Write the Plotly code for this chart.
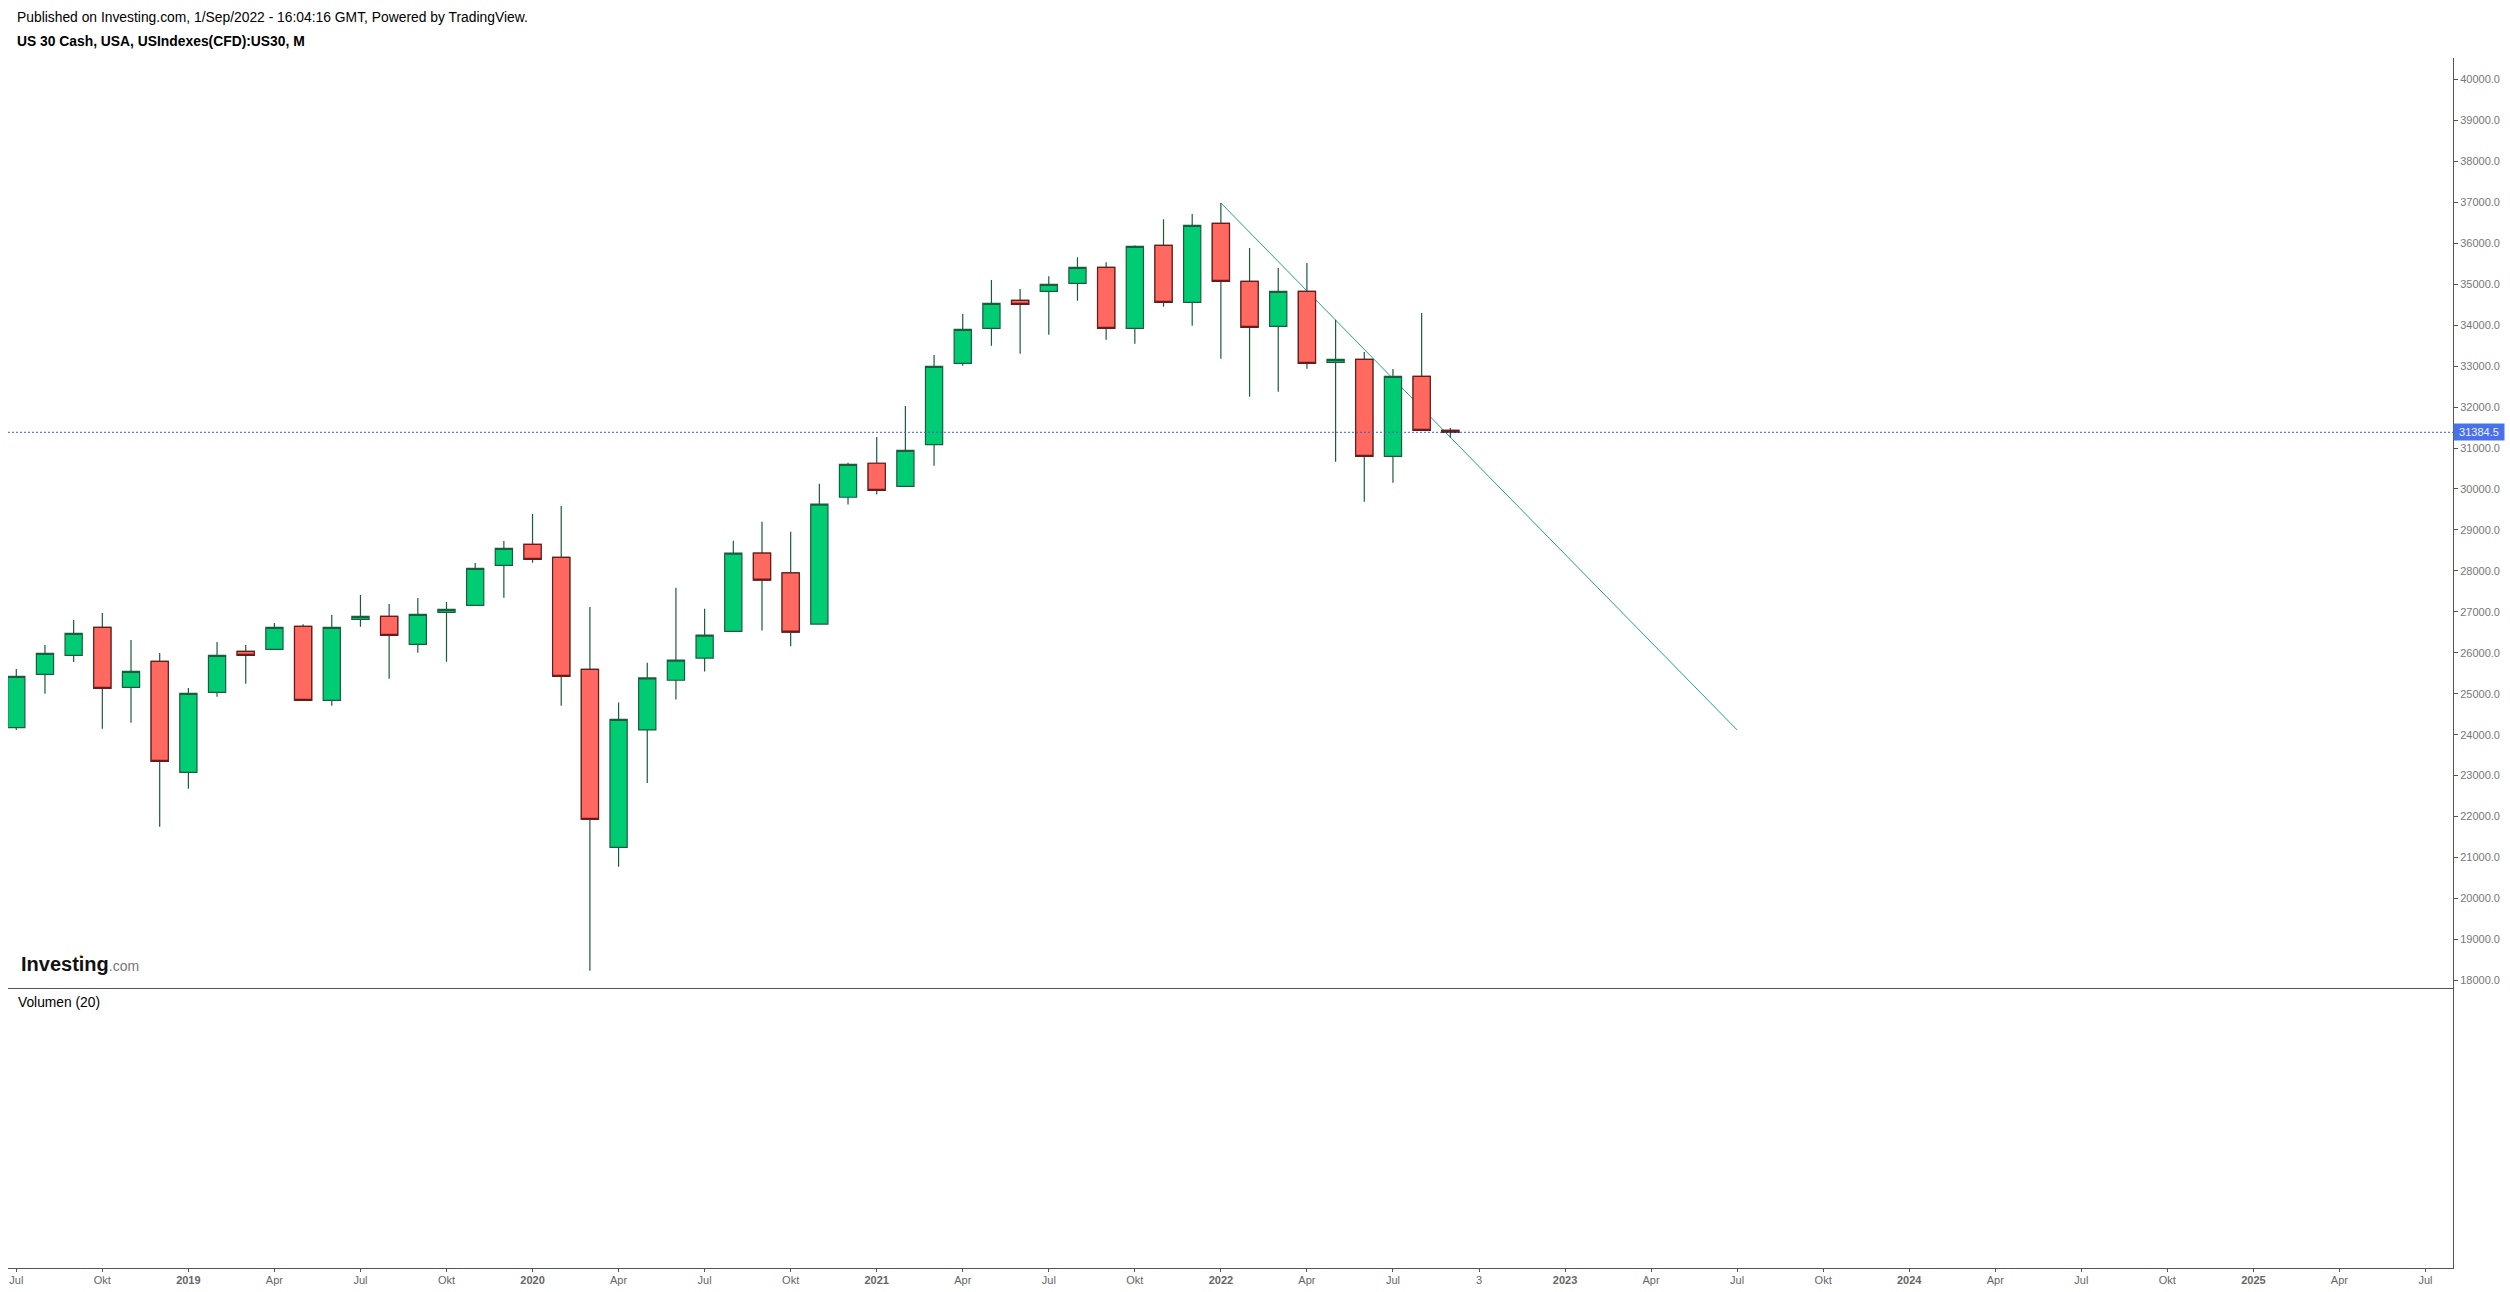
import pandas as pd
import plotly.graph_objects as go

# ---- data ----
opens = [24171,25474,25938,26621,25156,25791,23080,25034,26035,26084,26646,24839,26817,26890,26206,26988,27159,28136,
         28648,28331,25596,21249,24116,25329,25870,26523,28436,27951,26700,29798,30629,30065,31083,33069,33924,34607,
         34827,35023,35413,33924,35950,34559,36488,35071,33972,34827,33093,33167,30798,32751,31433]
highs = [25604,26190,26801,26971,26312,25995,25140,26263,26190,26727,26695,26923,27411,27191,27338,27240,28193,28730,
         29389,29584,27118,24787,25758,27587,27073,28734,29201,28958,30125,30638,31272,32027,33272,34274,35104,34884,
         35193,35658,35535,35950,36586,36716,36984,35885,35397,35519,34135,33346,32931,34298,31490]
lows  = [24114,25002,25775,24147,24293,21754,22682,24928,25246,26084,24839,24709,26638,25368,26003,25783,27159,27346,
         28201,24709,18237,20775,22819,24862,25543,26523,26542,26159,26700,29621,29864,30065,30570,33012,33500,33305,
         33769,34599,33647,33549,34453,33989,33183,32255,32377,32939,30668,29691,30155,31433,31254]
closes= [25425,25987,26475,25132,25547,23349,25010,25938,25938,26621,24839,26621,26890,26426,26939,27061,28062,28551,
         28282,25425,21933,24375,25385,25823,26430,28436,27773,26504,29630,30601,29966,30944,32996,33899,34534,34510,
         34998,35413,33924,35926,34559,36439,35071,33948,34827,33069,33167,30798,32751,31433,31384.5]
last_price = 31384.5
trend_months = ["2022-01", "2023-07"]
trend_values = [36984, 24115]

y_ticks = [18000,19000,20000,21000,22000,23000,24000,25000,26000,27000,28000,29000,
           30000,31000,32000,33000,34000,35000,36000,37000,38000,39000,40000]
x_tick_months = ["2018-07","2018-10","2019-01","2019-04","2019-07","2019-10","2020-01","2020-04","2020-07","2020-10",
                 "2021-01","2021-04","2021-07","2021-10","2022-01","2022-04","2022-07","2022-10","2023-01","2023-04",
                 "2023-07","2023-10","2024-01","2024-04","2024-07","2024-10","2025-01","2025-04","2025-07"]
x_tick_labels = ["Jul","Okt","<b>2019</b>","Apr","Jul","Okt","<b>2020</b>","Apr","Jul","Okt",
                 "<b>2021</b>","Apr","Jul","Okt","<b>2022</b>","Apr","Jul","3","<b>2023</b>","Apr",
                 "Jul","Okt","<b>2024</b>","Apr","Jul","Okt","<b>2025</b>","Apr","Jul"]

axis_months = [str(p) for p in pd.period_range("2018-07", "2025-09", freq="M")]
months = axis_months[:len(opens)]
down = [i for i in range(len(opens)) if closes[i] < opens[i]]

W, H = 2510, 1292
L, R, T, B = 8, 57, 58, 24
PANE = (1268 - 988) / (1268 - 58)
X_RANGE = [-0.289, 84.96]
Y_RANGE = [17814, 40525]
FONT = "Liberation Sans, Arial, sans-serif"
AXC = "#555555"
GREEN, RED = "#00CC73", "#FF6960"
DKGREEN, DKRED = "#1B5C3E", "#6E1A1A"

fig = go.Figure()

# trend line lies under the candles: primary axes, candles go on the overlay axes
fig.add_trace(go.Scatter(x=trend_months, y=trend_values, mode="lines", xaxis="x", yaxis="y",
                         line=dict(color="#22A08C", width=1), hoverinfo="skip"))
fig.add_trace(go.Scatter(x=[], y=[], xaxis="x2", yaxis="y2", name="Volumen (20)"))

fig.add_trace(go.Candlestick(x=months, open=opens, high=highs, low=lows, close=closes,
                             xaxis="x3", yaxis="y3", whiskerwidth=0,
                             increasing=dict(line=dict(color=DKGREEN, width=1.2), fillcolor=GREEN),
                             decreasing=dict(line=dict(color=DKGREEN, width=1.2), fillcolor=RED)))
# red bodies get their dark red outline on top of the green wick colour
fig.add_trace(go.Candlestick(x=[months[i] for i in down],
                             open=[opens[i] for i in down], high=[opens[i] for i in down],
                             low=[closes[i] for i in down], close=[closes[i] for i in down],
                             xaxis="x3", yaxis="y3", whiskerwidth=0,
                             decreasing=dict(line=dict(color=DKRED, width=1.2), fillcolor=RED)))

fig.update_layout(
    width=W, height=H, margin=dict(l=L, r=R, t=T, b=B, autoexpand=False),
    paper_bgcolor="white", plot_bgcolor="white", showlegend=False,
    font=dict(family=FONT, size=11, color="#777777"),
    boxmode="overlay", boxgap=0.40, boxgroupgap=0,
    xaxis=dict(domain=[0, 1], anchor="y", type="category", categoryorder="array", categoryarray=axis_months,
               range=X_RANGE, showgrid=False, zeroline=False, showticklabels=False, ticks="",
               showline=True, linecolor=AXC, linewidth=1, rangeslider=dict(visible=False)),
    yaxis=dict(domain=[PANE, 1], anchor="x", side="right", range=Y_RANGE, tickvals=y_ticks,
               tickformat=".1f", ticks="outside", ticklen=4, tickwidth=1, tickcolor=AXC,
               tickfont=dict(size=11, color="#777777"), showgrid=False, zeroline=False,
               showline=True, linecolor=AXC, linewidth=1),
    xaxis2=dict(domain=[0, 1], anchor="y2", type="category", categoryorder="array", categoryarray=axis_months,
                range=X_RANGE, tickmode="array", tickvals=x_tick_months, ticktext=x_tick_labels,
                ticks="outside", ticklen=3, tickwidth=1, tickcolor=AXC, tickangle=0, ticklabelstandoff=-1,
                tickfont=dict(size=11, color="#666666"), showgrid=False, zeroline=False,
                showline=True, linecolor=AXC, linewidth=1),
    yaxis2=dict(domain=[0, PANE], anchor="x2", side="right", range=[0, 1], showticklabels=False, ticks="",
                showgrid=False, zeroline=False, showline=True, linecolor=AXC, linewidth=1),
    xaxis3=dict(overlaying="x", anchor="y3", type="category", categoryorder="array", categoryarray=axis_months,
                range=X_RANGE, visible=False, rangeslider=dict(visible=False)),
    yaxis3=dict(overlaying="y", anchor="x3", side="right", range=Y_RANGE, visible=False),
)

# last price line and label
fig.add_shape(type="line", xref="paper", yref="y3", x0=0, x1=1, y0=last_price, y1=last_price, layer="above",
              line=dict(color="#3F5CC8", width=1, dash="2px,2px"))
fig.add_annotation(xref="paper", yref="y3", x=1, y=last_price, xanchor="left", yanchor="middle",
                   text=f"{last_price:.1f}", showarrow=False, width=50, height=16, bgcolor="#4A72E8",
                   borderpad=0, align="center", font=dict(size=11, color="#EEF2FF"))

def px_note(x, y, text, size, color="#000000", anchor="left"):
    fig.add_annotation(xref="paper", yref="paper", x=(x - L) / (W - L - R), y=1 - (y - T) / (H - T - B),
                       xanchor=anchor, yanchor="middle", text=text, showarrow=False, borderpad=0,
                       font=dict(family=FONT, size=size, color=color))

px_note(15.5, 17.5, "Published on Investing.com, 1/Sep/2022 - 16:04:16 GMT, Powered by TradingView.", 13.85)
px_note(15.5, 41, "<b>US 30 Cash, USA, USIndexes(CFD):US30, M</b>", 13.85)
px_note(17, 1003, "Volumen (20)", 13.8)
px_note(20, 964, "<b>Investing</b><span style='font-size:14px;color:#777777'>.com</span>", 20, "#111111")
fig.add_shape(type="circle", xref="paper", yref="paper", layer="above",
              x0=(79.5 - L) / (W - L - R), x1=(82.5 - L) / (W - L - R),
              y0=1 - (957.5 - T) / (H - T - B), y1=1 - (954.5 - T) / (H - T - B),
              fillcolor="#F5A623", line=dict(width=0))

# the reference chart starts at the page corner
fig.write_html("out.html", config=dict(displayModeBar=False),
               post_script="document.body.style.margin='0';document.body.style.overflow='hidden';")
